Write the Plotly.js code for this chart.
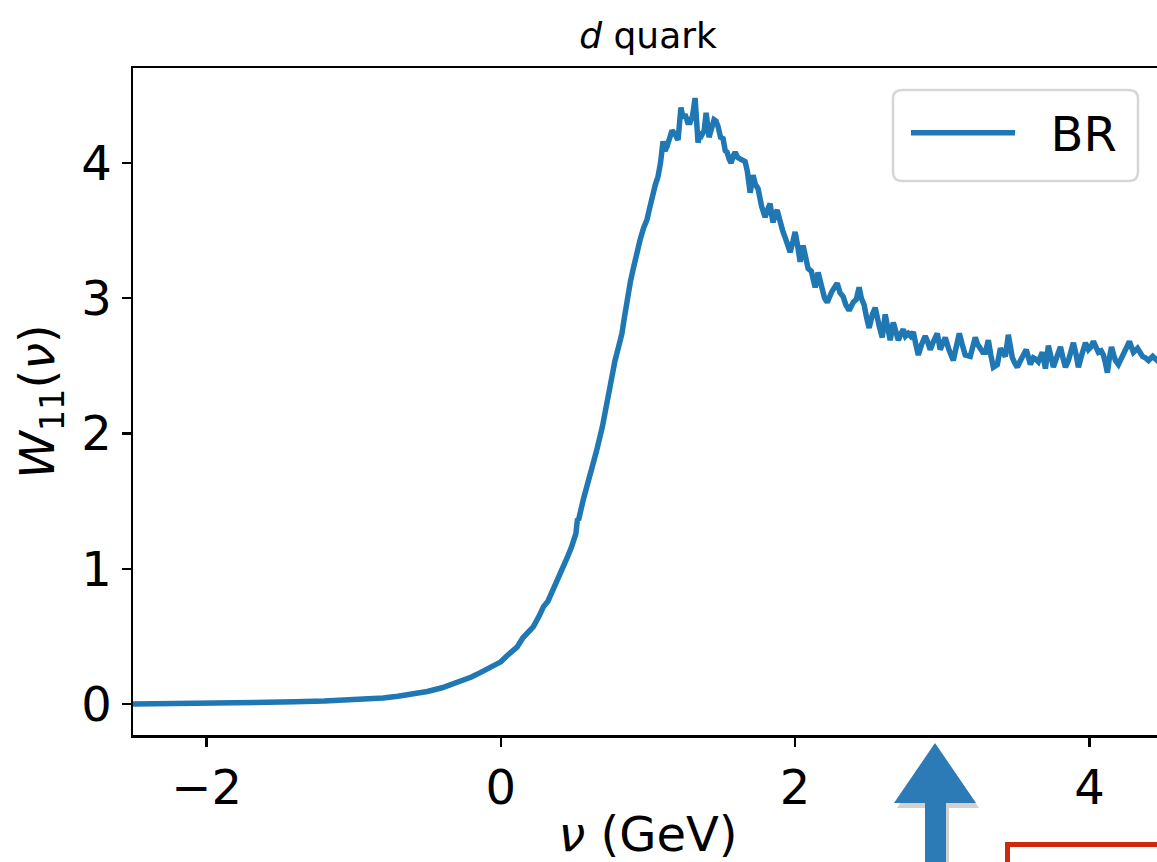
<!DOCTYPE html>
<html>
<head>
<meta charset="utf-8">
<script src="https://cdn.plot.ly/plotly-3.0.1.min.js"></script>
<style>
html,body{margin:0;padding:0;overflow:hidden;background:#fff;}
#chart{width:1163px;height:862px;}
</style>
</head>
<body>
<div id="chart"></div>
<script>
// ---- data ----
const nu = [
-2.5,-2.2,-2.0,-1.8,-1.6,-1.4,-1.2,-1.0,-0.8,-0.7,-0.6,-0.5,-0.4,-0.3,-0.2,-0.14,-0.08,-0.03,0.00,0.04,
0.08,0.11,0.15,0.19,0.22,0.26,0.29,0.32,0.35,0.39,0.42,0.45,0.48,0.51,0.52,0.53,0.56,0.59,0.62,0.65,
0.69,0.71,0.73,0.755,0.776,0.80,0.823,0.84,0.857,0.88,0.898,0.92,0.946,0.97,0.993,1.01,1.034,1.05,1.068,1.085,
1.102,1.115,1.129,1.145,1.163,1.185,1.204,1.224,1.238,1.252,1.27,1.286,1.303,1.320,1.340,1.355,1.367,1.382,1.395,1.415,
1.432,1.449,1.462,1.476,1.493,1.510,1.525,1.537,1.551,1.565,1.578,1.592,1.61,1.626,1.645,1.660,1.675,1.694,1.704,1.714,
1.730,1.748,1.772,1.796,1.815,1.830,1.840,1.850,1.865,1.878,1.890,1.898,1.915,1.932,1.950,1.966,1.985,2.000,2.015,2.034,
2.054,2.07,2.088,2.11,2.136,2.156,2.18,2.20,2.218,2.25,2.286,2.305,2.327,2.345,2.367,2.395,2.415,2.435,2.45,2.469,
2.485,2.503,2.525,2.544,2.57,2.592,2.612,2.63,2.646,2.667,2.685,2.701,2.72,2.735,2.75,2.769,2.785,2.803,2.82,2.837,
2.86,2.884,2.90,2.918,2.94,2.966,2.986,3.00,3.02,3.045,3.075,3.095,3.116,3.135,3.156,3.19,3.205,3.224,3.24,3.259,
3.275,3.293,3.313,3.33,3.347,3.374,3.395,3.41,3.429,3.449,3.476,3.493,3.510,3.527,3.544,3.571,3.599,3.619,3.636,3.653,
3.680,3.701,3.721,3.74,3.755,3.78,3.803,3.82,3.837,3.857,3.891,3.91,3.925,3.95,3.973,3.993,4.01,4.027,4.045,4.061,
4.08,4.095,4.109,4.122,4.136,4.150,4.165,4.177,4.197,4.215,4.231,4.25,4.272,4.285,4.299,4.327,4.345,4.361,4.38,4.401,
4.43,4.46,4.5
];
const W11 = [
0.000,0.002,0.004,0.007,0.011,0.016,0.022,0.031,0.045,0.058,0.073,0.093,0.120,0.157,0.200,0.232,0.268,0.292,0.312,0.355,
0.39,0.42,0.49,0.53,0.57,0.65,0.72,0.76,0.83,0.92,1.01,1.08,1.16,1.26,1.36,1.37,1.51,1.62,1.73,1.87,
2.05,2.17,2.30,2.40,2.54,2.64,2.74,2.86,2.99,3.12,3.21,3.32,3.43,3.52,3.58,3.66,3.78,3.84,3.90,4.00,
4.16,4.09,4.12,4.18,4.24,4.21,4.17,4.41,4.33,4.36,4.30,4.30,4.35,4.48,4.15,4.23,4.21,4.24,4.37,4.19,
4.26,4.32,4.31,4.27,4.19,4.18,4.09,4.08,4.03,4.00,4.05,4.08,4.04,4.03,4.02,4.01,3.94,3.78,3.84,3.91,
3.84,3.81,3.68,3.60,3.66,3.70,3.62,3.56,3.63,3.65,3.60,3.56,3.50,3.45,3.40,3.34,3.42,3.49,3.40,3.27,
3.39,3.30,3.22,3.20,3.08,3.19,3.08,3.00,2.97,3.05,3.11,3.04,3.01,2.95,2.91,2.97,2.99,3.08,3.00,2.95,
2.86,2.78,2.88,2.93,2.80,2.71,2.88,2.78,2.69,2.82,2.75,2.69,2.74,2.77,2.72,2.74,2.72,2.75,2.66,2.58,
2.66,2.72,2.68,2.62,2.68,2.74,2.62,2.66,2.71,2.62,2.54,2.64,2.74,2.66,2.58,2.57,2.64,2.71,2.66,2.63,
2.60,2.60,2.69,2.58,2.49,2.51,2.63,2.60,2.57,2.73,2.56,2.52,2.49,2.53,2.57,2.62,2.51,2.56,2.55,2.53,
2.60,2.48,2.65,2.56,2.49,2.57,2.64,2.56,2.49,2.54,2.67,2.58,2.49,2.59,2.67,2.62,2.64,2.68,2.63,2.60,
2.61,2.58,2.52,2.45,2.56,2.64,2.58,2.54,2.51,2.55,2.58,2.63,2.68,2.64,2.60,2.63,2.60,2.57,2.56,2.54,
2.57,2.54,2.58
];
const xTicks = [-2, 0, 2, 4];
const yTicks = [0, 1, 2, 3, 4];
const seriesName = 'BR';

// ---- layout helpers (pixel -> paper) ----
const L = 133, T = 68, PW = 1030, PH = 667;
const px = x => (x - L) / PW;
const py = y => (T + PH - y) / PH;

const FONT = 'DejaVu Sans, sans-serif';
const arrowPts = [[935,743],[976,803],[946,803],[946,880],[925,880],[925,803],[894,803]];
function pathFrom(pts, dx, dy){
  return 'M' + pts.map(p => px(p[0]+dx).toFixed(5) + ',' + py(p[1]+dy).toFixed(5)).join(' L') + ' Z';
}
function roundRect(x0, y0, x1, y1, r){
  const P = (x, y) => px(x).toFixed(5) + ',' + py(y).toFixed(5);
  return 'M' + P(x0 + r, y0) + ' L' + P(x1 - r, y0) + ' Q' + P(x1, y0) + ' ' + P(x1, y0 + r) +
         ' L' + P(x1, y1 - r) + ' Q' + P(x1, y1) + ' ' + P(x1 - r, y1) +
         ' L' + P(x0 + r, y1) + ' Q' + P(x0, y1) + ' ' + P(x0, y1 - r) +
         ' L' + P(x0, y0 + r) + ' Q' + P(x0, y0) + ' ' + P(x0 + r, y0) + ' Z';
}

const trace = {
  x: nu, y: W11, type: 'scatter', mode: 'lines', name: '\u00a0\u00a0' + seriesName,
  line: {color: '#1f77b4', width: 5.5}
};

const layout = {
  width: 1163, height: 862,
  margin: {l: L, r: 0, t: T, b: 862 - T - PH},
  paper_bgcolor: '#ffffff', plot_bgcolor: '#ffffff',
  font: {family: FONT, color: '#000', size: 48},
  title: {text: '<i>d</i> quark', font: {family: FONT, size: 36, color: '#000'},
          x: 0.5, xref: 'paper', y: 1 - 35/862, yref: 'container', yanchor: 'middle'},
  xaxis: {
    range: [-2.5, 4.5], tickvals: xTicks, ticktext: xTicks.map(v => v < 0 ? '\u2212' + Math.abs(v) : String(v)),
    showgrid: false, zeroline: false, showline: true, mirror: true, linecolor: '#000', linewidth: 2.5,
    ticks: 'outside', ticklen: 9, tickwidth: 2.5, tickcolor: '#000',
    tickfont: {family: FONT, size: 48, color: '#000'},
    title: {text: '<i>ν</i> (GeV)', font: {family: FONT, size: 48, color: '#000'}, standoff: 9}
  },
  yaxis: {
    range: [-0.229, 4.702], tickvals: yTicks,
    showgrid: false, zeroline: false, showline: true, mirror: false, linecolor: '#000', linewidth: 2.5,
    ticks: 'outside', ticklen: 9, tickwidth: 2.5, tickcolor: '#000',
    tickfont: {family: FONT, size: 48, color: '#000'},
    title: {text: '<i>W</i><sub>11</sub>(<i>ν</i>)', font: {family: FONT, size: 48, color: '#000'}, standoff: 12}
  },
  showlegend: true,
  legend: {
    x: px(906), y: py(95), xanchor: 'left', yanchor: 'top',
    bgcolor: 'rgba(0,0,0,0)', borderwidth: 0,
    font: {family: FONT, size: 48, color: '#000'}, itemwidth: 104
  },
  shapes: [
    {type: 'path', xref: 'paper', yref: 'paper', path: roundRect(893, 90, 1138, 181, 9),
     fillcolor: 'rgba(255,255,255,0.8)', line: {color: '#d6d6d6', width: 2.5}, layer: 'above'},
    {type: 'path', xref: 'paper', yref: 'paper', path: pathFrom(arrowPts, 3, 5),
     fillcolor: 'rgba(0,0,0,0.18)', line: {width: 0}, layer: 'above'},
    {type: 'path', xref: 'paper', yref: 'paper', path: pathFrom(arrowPts, 0, 0),
     fillcolor: '#2c7bb6', line: {width: 0}, layer: 'above'},
    {type: 'rect', xref: 'paper', yref: 'paper',
     x0: px(1007.5), x1: px(1250), y0: py(844.5), y1: py(950),
     line: {color: '#cc2a0c', width: 5}, fillcolor: 'rgba(0,0,0,0)', layer: 'above'}
  ]
};

Plotly.newPlot('chart', [trace], layout, {staticPlot: true, displayModeBar: false});
</script>
</body>
</html>
